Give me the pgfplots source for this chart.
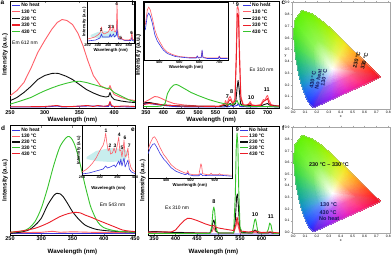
\documentclass[border=0pt]{standalone}
\usepackage{fontspec}
\setmainfont{Liberation Sans}
\usepackage{pgfplots}
\usepackage{pgfplotstable}
\pgfplotsset{compat=1.18}
\definecolor{cblue}{RGB}{55,55,225}
\definecolor{cpink}{RGB}{255,95,105}
\definecolor{cred}{RGB}{235,30,40}
\definecolor{cgreen}{RGB}{55,195,45}
\definecolor{cblack}{RGB}{15,15,15}
\definecolor{cfill}{RGB}{200,238,238}
\definecolor{cnavy}{RGB}{20,25,95}
\newcommand{\fs}[1]{\fontsize{#1}{#1}\selectfont}
\pgfplotsset{
  spec/.style={
    scale only axis, anchor=north west, clip=true,
    ytick=\empty, tick align=inside, major tick length=2bp,
    axis line style={line width=0.5bp},
    every tick/.append style={line width=0.4bp},
    tick label style={font=\fs{5.5}\bfseries, /pgf/number format/assume math mode=true},
    xticklabel style={inner sep=1.5bp},
    label style={font=\fs{6.2}\bfseries},
    xlabel={Wavelength (nm)}, ylabel={Intensity (a.u.)},
    xlabel style={at={(axis description cs:0.5,0)}, anchor=north, inner sep=0pt, yshift=-8bp},
    ylabel style={at={(axis description cs:-0.016,0.5)}, anchor=south, inner sep=0pt},
    every axis plot/.append style={line width=0.9bp, line join=round},
    legend cell align=left,
    legend image code/.code={\draw[##1, line width=1.1bp] (0bp,0bp) -- (8bp,0bp);},
    legend style={draw=none, fill=none, font=\fs{5}\bfseries, anchor=north west, row sep=1.6bp, inner sep=0pt,
      nodes={text height=3.6bp, text depth=0.4bp, inner sep=0.5bp}},
  },
  inset/.style={
    scale only axis, anchor=north west, clip=true,
    ytick=\empty, tick align=inside, major tick length=1.2bp,
    axis line style={line width=0.4bp},
    every tick/.append style={line width=0.3bp},
    axis background/.style={fill=white},
    tick label style={font=\fs{3.8}\bfseries, /pgf/number format/assume math mode=true},
    xticklabel style={inner sep=0.8bp},
    label style={font=\fs{4.3}\bfseries},
    xlabel={Wavelength (nm)},
    xlabel style={at={(axis description cs:0.5,0)}, anchor=north, inner sep=0pt, yshift=-5.2bp},
    ylabel style={at={(axis description cs:-0.02,0.5)}, anchor=south, inner sep=0pt},
    every axis plot/.append style={line width=0.6bp, line join=round},
  },
  cie/.style={
    scale only axis, anchor=north west,
    xmin=-0.013, xmax=0.814, ymin=-0.008, ymax=0.908,
    xtick={0,0.1,0.2,0.3,0.4,0.5,0.6,0.7,0.8},
    ytick={0,0.1,0.2,0.3,0.4,0.5,0.6,0.7,0.8,0.9},
    tick align=outside, major tick length=1bp,
    axis line style={draw=gray!70, line width=0.4bp},
    every tick/.append style={gray!70, line width=0.3bp},
    tick label style={font=\fs{3.4}, /pgf/number format/fixed, /pgf/number format/fixed zerofill, /pgf/number format/precision=1, /pgf/number format/assume math mode=true},
    xticklabel style={inner sep=1bp}, yticklabel style={inner sep=1bp},
    label style={font=\fs{3.6}},
    xlabel={x}, ylabel={y},
    xlabel style={at={(axis description cs:0.5,0)}, anchor=north, yshift=-6bp, inner sep=0pt},
    ylabel style={at={(axis description cs:-0.062,0.5)}, anchor=center, rotate=-90, inner sep=0pt},
  },
}
\pgfplotstableread{
x y c
0.3333 0.3333 rgb=1,1,1
0.2537 0.1692 rgb=0.51,0.37,0.93
0.2387 0.1815 rgb=0.405,0.405,1
0.2537 0.1692 rgb=0.51,0.37,0.93
0.1741 0.0050 rgb=0.3,0.1,0.9
0.1440 0.0297 rgb=0.15,0.15,1
0.2537 0.1692 rgb=0.51,0.37,0.93
0.1440 0.0297 rgb=0.15,0.15,1
0.2387 0.1815 rgb=0.405,0.405,1
0.3333 0.3333 rgb=1,1,1
0.2387 0.1815 rgb=0.405,0.405,1
0.2287 0.1956 rgb=0.37,0.475,1
0.2387 0.1815 rgb=0.405,0.405,1
0.1440 0.0297 rgb=0.15,0.15,1
0.1241 0.0578 rgb=0.1,0.25,1
0.2387 0.1815 rgb=0.405,0.405,1
0.1241 0.0578 rgb=0.1,0.25,1
0.2287 0.1956 rgb=0.37,0.475,1
0.3333 0.3333 rgb=1,1,1
0.2287 0.1956 rgb=0.37,0.475,1
0.2123 0.2330 rgb=0.37,0.58,0.965
0.2287 0.1956 rgb=0.37,0.475,1
0.1241 0.0578 rgb=0.1,0.25,1
0.0913 0.1327 rgb=0.1,0.4,0.95
0.2287 0.1956 rgb=0.37,0.475,1
0.0913 0.1327 rgb=0.1,0.4,0.95
0.2123 0.2330 rgb=0.37,0.58,0.965
0.3333 0.3333 rgb=1,1,1
0.2123 0.2330 rgb=0.37,0.58,0.965
0.2010 0.2670 rgb=0.335,0.685,0.86
0.2123 0.2330 rgb=0.37,0.58,0.965
0.0913 0.1327 rgb=0.1,0.4,0.95
0.0687 0.2007 rgb=0.05,0.55,0.8
0.2123 0.2330 rgb=0.37,0.58,0.965
0.0687 0.2007 rgb=0.05,0.55,0.8
0.2010 0.2670 rgb=0.335,0.685,0.86
0.3333 0.3333 rgb=1,1,1
0.2010 0.2670 rgb=0.335,0.685,0.86
0.1894 0.3142 rgb=0.335,0.755,0.72
0.2010 0.2670 rgb=0.335,0.685,0.86
0.0687 0.2007 rgb=0.05,0.55,0.8
0.0454 0.2950 rgb=0.05,0.65,0.6
0.2010 0.2670 rgb=0.335,0.685,0.86
0.0454 0.2950 rgb=0.05,0.65,0.6
0.1894 0.3142 rgb=0.335,0.755,0.72
0.3333 0.3333 rgb=1,1,1
0.1894 0.3142 rgb=0.335,0.755,0.72
0.1784 0.3730 rgb=0.37,0.825,0.58
0.1894 0.3142 rgb=0.335,0.755,0.72
0.0454 0.2950 rgb=0.05,0.65,0.6
0.0235 0.4127 rgb=0.1,0.75,0.4
0.1894 0.3142 rgb=0.335,0.755,0.72
0.0235 0.4127 rgb=0.1,0.75,0.4
0.1784 0.3730 rgb=0.37,0.825,0.58
0.3333 0.3333 rgb=1,1,1
0.1784 0.3730 rgb=0.37,0.825,0.58
0.1708 0.4359 rgb=0.44,0.895,0.44
0.1784 0.3730 rgb=0.37,0.825,0.58
0.0235 0.4127 rgb=0.1,0.75,0.4
0.0082 0.5384 rgb=0.2,0.85,0.2
0.1784 0.3730 rgb=0.37,0.825,0.58
0.0082 0.5384 rgb=0.2,0.85,0.2
0.1708 0.4359 rgb=0.44,0.895,0.44
0.3333 0.3333 rgb=1,1,1
0.1708 0.4359 rgb=0.44,0.895,0.44
0.1686 0.4941 rgb=0.51,0.93,0.37
0.1708 0.4359 rgb=0.44,0.895,0.44
0.0082 0.5384 rgb=0.2,0.85,0.2
0.0039 0.6548 rgb=0.3,0.9,0.1
0.1708 0.4359 rgb=0.44,0.895,0.44
0.0039 0.6548 rgb=0.3,0.9,0.1
0.1686 0.4941 rgb=0.51,0.93,0.37
0.3333 0.3333 rgb=1,1,1
0.1686 0.4941 rgb=0.51,0.93,0.37
0.1736 0.5418 rgb=0.545,0.965,0.335
0.1686 0.4941 rgb=0.51,0.93,0.37
0.0039 0.6548 rgb=0.3,0.9,0.1
0.0139 0.7502 rgb=0.35,0.95,0.05
0.1686 0.4941 rgb=0.51,0.93,0.37
0.0139 0.7502 rgb=0.35,0.95,0.05
0.1736 0.5418 rgb=0.545,0.965,0.335
0.3333 0.3333 rgb=1,1,1
0.1736 0.5418 rgb=0.545,0.965,0.335
0.2038 0.5836 rgb=0.58,0.965,0.3
0.1736 0.5418 rgb=0.545,0.965,0.335
0.0139 0.7502 rgb=0.35,0.95,0.05
0.0743 0.8338 rgb=0.4,0.95,0
0.1736 0.5418 rgb=0.545,0.965,0.335
0.0743 0.8338 rgb=0.4,0.95,0
0.2038 0.5836 rgb=0.58,0.965,0.3
0.3333 0.3333 rgb=1,1,1
0.2038 0.5836 rgb=0.58,0.965,0.3
0.2440 0.5696 rgb=0.615,0.965,0.3
0.2038 0.5836 rgb=0.58,0.965,0.3
0.0743 0.8338 rgb=0.4,0.95,0
0.1547 0.8059 rgb=0.45,0.95,0
0.2038 0.5836 rgb=0.58,0.965,0.3
0.1547 0.8059 rgb=0.45,0.95,0
0.2440 0.5696 rgb=0.615,0.965,0.3
0.3333 0.3333 rgb=1,1,1
0.2440 0.5696 rgb=0.615,0.965,0.3
0.2815 0.5438 rgb=0.685,0.965,0.3
0.2440 0.5696 rgb=0.615,0.965,0.3
0.1547 0.8059 rgb=0.45,0.95,0
0.2296 0.7543 rgb=0.55,0.95,0
0.2440 0.5696 rgb=0.615,0.965,0.3
0.2296 0.7543 rgb=0.55,0.95,0
0.2815 0.5438 rgb=0.685,0.965,0.3
0.3333 0.3333 rgb=1,1,1
0.2815 0.5438 rgb=0.685,0.965,0.3
0.3175 0.5128 rgb=0.755,0.965,0.3
0.2815 0.5438 rgb=0.685,0.965,0.3
0.2296 0.7543 rgb=0.55,0.95,0
0.3016 0.6923 rgb=0.65,0.95,0
0.2815 0.5438 rgb=0.685,0.965,0.3
0.3016 0.6923 rgb=0.65,0.95,0
0.3175 0.5128 rgb=0.755,0.965,0.3
0.3333 0.3333 rgb=1,1,1
0.3175 0.5128 rgb=0.755,0.965,0.3
0.3532 0.4789 rgb=0.86,0.965,0.335
0.3175 0.5128 rgb=0.755,0.965,0.3
0.3016 0.6923 rgb=0.65,0.95,0
0.3731 0.6245 rgb=0.8,0.95,0.05
0.3175 0.5128 rgb=0.755,0.965,0.3
0.3731 0.6245 rgb=0.8,0.95,0.05
0.3532 0.4789 rgb=0.86,0.965,0.335
0.3333 0.3333 rgb=1,1,1
0.3532 0.4789 rgb=0.86,0.965,0.335
0.3887 0.4440 rgb=0.965,0.93,0.37
0.3532 0.4789 rgb=0.86,0.965,0.335
0.3731 0.6245 rgb=0.8,0.95,0.05
0.4441 0.5547 rgb=0.95,0.9,0.1
0.3532 0.4789 rgb=0.86,0.965,0.335
0.4441 0.5547 rgb=0.95,0.9,0.1
0.3887 0.4440 rgb=0.965,0.93,0.37
0.3333 0.3333 rgb=1,1,1
0.3887 0.4440 rgb=0.965,0.93,0.37
0.4229 0.4100 rgb=1,0.79,0.37
0.3887 0.4440 rgb=0.965,0.93,0.37
0.4441 0.5547 rgb=0.95,0.9,0.1
0.5125 0.4866 rgb=1,0.7,0.1
0.3887 0.4440 rgb=0.965,0.93,0.37
0.5125 0.4866 rgb=1,0.7,0.1
0.4229 0.4100 rgb=1,0.79,0.37
0.3333 0.3333 rgb=1,1,1
0.4229 0.4100 rgb=1,0.79,0.37
0.4543 0.3788 rgb=1,0.65,0.37
0.4229 0.4100 rgb=1,0.79,0.37
0.5125 0.4866 rgb=1,0.7,0.1
0.5752 0.4242 rgb=1,0.5,0.1
0.4229 0.4100 rgb=1,0.79,0.37
0.5752 0.4242 rgb=1,0.5,0.1
0.4543 0.3788 rgb=1,0.65,0.37
0.3333 0.3333 rgb=1,1,1
0.4543 0.3788 rgb=1,0.65,0.37
0.4802 0.3529 rgb=1,0.51,0.37
0.4543 0.3788 rgb=1,0.65,0.37
0.5752 0.4242 rgb=1,0.5,0.1
0.6270 0.3725 rgb=1,0.3,0.1
0.4543 0.3788 rgb=1,0.65,0.37
0.6270 0.3725 rgb=1,0.3,0.1
0.4802 0.3529 rgb=1,0.51,0.37
0.3333 0.3333 rgb=1,1,1
0.4802 0.3529 rgb=1,0.51,0.37
0.5124 0.3208 rgb=1,0.37,0.37
0.4802 0.3529 rgb=1,0.51,0.37
0.6270 0.3725 rgb=1,0.3,0.1
0.6915 0.3083 rgb=1,0.1,0.1
0.4802 0.3529 rgb=1,0.51,0.37
0.6915 0.3083 rgb=1,0.1,0.1
0.5124 0.3208 rgb=1,0.37,0.37
0.3333 0.3333 rgb=1,1,1
0.5124 0.3208 rgb=1,0.37,0.37
0.5340 0.2993 rgb=0.965,0.335,0.405
0.5124 0.3208 rgb=1,0.37,0.37
0.6915 0.3083 rgb=1,0.1,0.1
0.7347 0.2653 rgb=0.95,0.05,0.15
0.5124 0.3208 rgb=1,0.37,0.37
0.7347 0.2653 rgb=0.95,0.05,0.15
0.5340 0.2993 rgb=0.965,0.335,0.405
0.3333 0.3333 rgb=1,1,1
0.5340 0.2993 rgb=0.965,0.335,0.405
0.4639 0.2655 rgb=1,0.37,0.615
0.5340 0.2993 rgb=0.965,0.335,0.405
0.7347 0.2653 rgb=0.95,0.05,0.15
0.5945 0.1977 rgb=1,0.1,0.45
0.5340 0.2993 rgb=0.965,0.335,0.405
0.5945 0.1977 rgb=1,0.1,0.45
0.4639 0.2655 rgb=1,0.37,0.615
0.3333 0.3333 rgb=1,1,1
0.4639 0.2655 rgb=1,0.37,0.615
0.3939 0.2343 rgb=0.93,0.37,0.825
0.4639 0.2655 rgb=1,0.37,0.615
0.5945 0.1977 rgb=1,0.1,0.45
0.4544 0.1352 rgb=0.9,0.1,0.75
0.4639 0.2655 rgb=1,0.37,0.615
0.4544 0.1352 rgb=0.9,0.1,0.75
0.3939 0.2343 rgb=0.93,0.37,0.825
0.3333 0.3333 rgb=1,1,1
0.3939 0.2343 rgb=0.93,0.37,0.825
0.3238 0.2017 rgb=0.72,0.37,0.965
0.3939 0.2343 rgb=0.93,0.37,0.825
0.4544 0.1352 rgb=0.9,0.1,0.75
0.3143 0.0701 rgb=0.6,0.1,0.95
0.3939 0.2343 rgb=0.93,0.37,0.825
0.3143 0.0701 rgb=0.6,0.1,0.95
0.3238 0.2017 rgb=0.72,0.37,0.965
0.3333 0.3333 rgb=1,1,1
0.3238 0.2017 rgb=0.72,0.37,0.965
0.2537 0.1692 rgb=0.51,0.37,0.93
0.3238 0.2017 rgb=0.72,0.37,0.965
0.3143 0.0701 rgb=0.6,0.1,0.95
0.1741 0.0050 rgb=0.3,0.1,0.9
0.3238 0.2017 rgb=0.72,0.37,0.965
0.1741 0.0050 rgb=0.3,0.1,0.9
0.2537 0.1692 rgb=0.51,0.37,0.93
}\ciedata
\pgfplotstableread{
x y
0.1741 0.0050
0.1440 0.0297
0.1241 0.0578
0.0913 0.1327
0.0687 0.2007
0.0454 0.2950
0.0235 0.4127
0.0082 0.5384
0.0039 0.6548
0.0139 0.7502
0.0743 0.8338
0.1547 0.8059
0.2296 0.7543
0.3016 0.6923
0.3731 0.6245
0.4441 0.5547
0.5125 0.4866
0.5752 0.4242
0.6270 0.3725
0.6915 0.3083
0.7347 0.2653
0.1741 0.0050
}\cieline
\begin{document}
\begin{tikzpicture}
\useasboundingbox (0,0) rectangle (392bp,-255bp);
% ---------------- a ----------------
\begin{axis}[spec, at={(10bp,-1bp)}, width=125bp, height=107.5bp, xmin=250, xmax=430, ymin=0, ymax=107.5,
  xtick={250,300,350,400}, legend style={at={(axis description cs:0.012,0.986)}}]
\addplot[cblue] coordinates {(250,1.5)(300,1.5)(318,2.5)(325,1.5)(362,2.5)(376,2.5)(392,2)(394,6)(396,2)(430,1.5)};
\addlegendentry{No heat}
\addplot[cpink] coordinates {(250,12.7)(260,18)(270,26)(280,40)(290,56)(300,68)(310,79)(318,86)(325,89)(332,88)(340,84)(348,75)(355,63)(362,48)(370,33)(380,23)(388,20)(392,19)(394,23)(396,19)(400,14)(410,11)(420,9)(430,8)};
\addlegendentry{130 °C}
\addplot[cblack] coordinates {(250,7.7)(260,11)(270,16)(280,22)(290,29)(300,33)(310,35)(315,35.3)(320,35)(330,32.5)(340,29)(350,24)(360,19)(370,15.5)(380,12.7)(388,11.5)(392,12)(394,16)(396,12)(400,9)(410,7.5)(420,6.5)(430,6)};
\addlegendentry{230 °C}
\addplot[cred] coordinates {(250,1.8)(280,1.8)(300,2)(318,3)(325,2)(340,2)(362,3)(370,2)(376,3)(385,2.2)(392,3)(394,7)(396,3)(400,2)(415,2.5)(430,2)};
\addlegendentry{330 °C}
\addplot[cgreen] coordinates {(250,4.3)(265,7.5)(280,11)(290,14.5)(300,17.7)(310,20.5)(320,23)(330,25)(340,26.7)(350,27.3)(360,26)(370,24)(380,22)(390,20)(393,20.5)(395,19)(400,16)(410,12.5)(420,9)(430,6.7)};
\addlegendentry{430 °C}
\end{axis}
% inset a
\begin{axis}[inset, at={(87.5bp,-1bp)}, width=46.5bp, height=42bp, xmin=250, xmax=475, ymin=0, ymax=42,
  xtick={250,300,350,400,450}, ylabel={Intensity (a.u.)}]
\addplot[fill=cfill, draw=none] coordinates {(265,8)(300,11)(340,12)(380,12)(405,9)(380,6)(340,5)(300,5)(265,6)} -- cycle;
\addplot[cblue] coordinates {(250,2)(270,2.5)(290,3)(310,5)(318,9)(322,6)(340,6)(355,6)(360,9)(364,6)(372,8)(376,9)(380,6)(390,8)(393,22)(396,7)(400,4)(414,4)(430,2.5)(460,2.5)(465,6)(468,2.5)(475,2)};
\addplot[cpink] coordinates {(250,4)(270,5)(285,6)(300,8)(310,10)(315,13)(318,16)(321,11)(330,9)(340,10)(350,11)(356,13)(360,18)(363,13)(368,12)(372,14)(376,17)(379,12)(385,11)(390,14)(393,40)(396,14)(400,6)(410,4)(414,6)(417,4)(430,3)(450,3)(460,4)(465,11)(468,4)(475,3)};
\end{axis}
% ---------------- b ----------------
\begin{axis}[spec, at={(143.5bp,-1.5bp)}, width=135.5bp, height=107bp, xmin=343, xmax=732.7, ymin=0, ymax=107,
  xtick={350,400,450,500,550,600,650,700}, legend style={at={(axis description cs:0.73,0.99)}}]
\addplot[cblue] coordinates {(343,4)(350,5)(360,5)(370,4.5)(380,4)(400,3)(430,2)(480,1.5)(575,1.5)(579,2)(583,1.5)(590,2)(595,3)(600,2)(612,3)(615,5)(620,2)(650,1.5)(700,2)(733,1.5)};
\addlegendentry{No heat}
\addplot[cpink] coordinates {(343,6)(355,8)(365,10)(375,12)(385,11.5)(395,10)(410,7.5)(430,5)(460,3.5)(500,2.5)(560,2.5)(575,3)(579,8)(583,4)(588,10)(592,12)(596,9)(600,5)(606,10)(610,60)(612,100)(614,102)(617,98)(619,60)(623,12)(630,4)(640,3)(646,5)(650,7)(654,4)(665,3)(680,4)(688,9)(692,8)(697,12)(700,13)(703,9)(710,4)(720,3)(733,3)};
\addlegendentry{130 °C}
\addplot[cblack] coordinates {(343,5)(350,6)(360,6)(375,5)(400,3.5)(450,2.5)(560,2)(579,3)(583,2)(588,4)(592,5)(596,4)(600,3)(608,5)(612,20)(615,28)(618,20)(622,5)(630,2.5)(650,3)(680,2.5)(690,4)(700,5)(705,3.5)(733,2)};
\addlegendentry{230 °C}
\addplot[cred] coordinates {(343,4)(360,5)(380,4.5)(400,3.5)(450,2.5)(560,2)(579,5)(583,3)(588,7)(592,9)(596,7)(600,4)(606,8)(610,50)(613,95)(616,93)(619,50)(623,10)(630,3)(646,4)(650,5)(654,3)(680,3)(688,7)(697,9)(700,10)(703,6)(710,3)(733,2)};
\addlegendentry{330 °C}
\addplot[cgreen] coordinates {(343,2)(360,2)(380,2)(395,2.5)(405,5)(412,15)(420,20)(430,23.5)(438,24)(445,23)(460,20)(480,16)(500,13)(530,9)(560,6)(580,4.5)(595,4)(605,5)(612,8)(616,5)(625,3)(650,2)(700,2)(733,1.5)};
\addlegendentry{430 °C}
\end{axis}
% inset b
\begin{axis}[inset, at={(144.3bp,-1.7bp)}, width=83.4bp, height=58.3bp, xmin=325, xmax=742, ymin=0, ymax=58.3,
  xtick={400,500,600,700}]
\addplot[cpink] coordinates {(330,35)(340,50)(347,53)(355,50)(365,42)(378,30)(390,23)(403,18)(420,12)(440,8)(460,6)(480,4.5)(500,3.5)(550,2.5)(585,2.5)(590,4)(595,2.5)(610,3)(614,9)(618,3)(640,2)(695,2)(700,4)(705,2)(742,2)};
\addplot[cblue] coordinates {(330,30)(340,44)(347,47)(355,44)(365,37)(378,25)(390,19)(403,15)(420,10)(440,6.5)(460,5)(480,3.5)(500,3)(550,2)(585,2)(590,4)(595,2)(610,2.5)(614,10)(618,2.5)(640,1.5)(695,1.5)(700,3.5)(705,1.5)(742,1.5)};
\end{axis}
% ---------------- c ----------------
\begin{axis}[cie, at={(291.7bp,-1.7bp)}, width=98.3bp, height=107.6bp]
\addplot[patch, shader=interp, mesh/color input=explicit, point meta=explicit symbolic] table[x=x, y=y, meta=c] {\ciedata};
\addplot[gray!60, line width=0.3bp] table[x=x, y=y] {\cieline};
\end{axis}
% ---------------- d ----------------
\begin{axis}[spec, at={(10bp,-125.5bp)}, width=125bp, height=109.5bp, xmin=250, xmax=450, ymin=-0.7, ymax=108.8,
  xtick={250,300,350,400,450}, xlabel style={yshift=-6bp}, legend style={at={(axis description cs:0.012,0.982)}, row sep=0.9bp}]
\addplot[cblue] coordinates {(250,1)(450,1)};
\addlegendentry{No heat}
\addplot[cpink] coordinates {(250,1.5)(300,2)(318,3)(330,2)(350,2.5)(380,2)(450,1.5)};
\addlegendentry{130 °C}
\addplot[cblack, smooth] coordinates {(250,1)(265,2)(280,4.3)(290,9)(300,16)(310,29)(320,38.7)(325,41)(330,40.5)(335,37.7)(342,31)(350,22.7)(360,15)(370,9.3)(380,6.5)(390,4.7)(410,3.3)(450,2)};
\addlegendentry{230 °C}
\addplot[cgreen, smooth] coordinates {(250,2)(270,3.3)(280,6)(290,12.7)(300,26)(310,46)(320,69)(330,87.7)(340,96.7)(345,97.7)(350,94.3)(355,87)(360,76)(365,63)(370,49.3)(375,37)(380,26)(390,12.7)(400,6.7)(420,3.3)(450,2)};
\addlegendentry{330 °C}
\addplot[cred, smooth] coordinates {(250,2)(270,3.5)(290,6)(310,11)(330,17.7)(345,21)(355,22)(362,21.5)(370,19.3)(380,17)(390,14.3)(400,11.8)(410,9.3)(420,6.8)(430,4.3)(440,3.3)(450,2.7)};
\addlegendentry{430 °C}
\end{axis}
% inset d
\begin{axis}[inset, at={(82bp,-125.5bp)}, width=53bp, height=49.5bp, xmin=250, xmax=400, ymin=0, ymax=49.5,
  xtick={250,300,350,400}, ylabel={Intensity (a.u.)}, xlabel style={yshift=-6bp}]
\addplot[fill=cfill, draw=none] coordinates {(263,18)(290,24)(330,27)(370,26)(383,22)(370,14)(330,13)(290,14)(263,16)} -- cycle;
\addplot[cblue] coordinates {(250,1)(270,2)(290,4)(310,6)(317,9)(322,7)(330,8)(341,10)(345,8)(354,14)(357,10)(360,16)(363,9)(369,17)(372,8)(380,15)(384,6)(390,3)(400,1.5)};
\addplot[cpink] coordinates {(250,3)(260,5)(270,8)(280,12)(290,17)(300,24)(310,30)(314,35)(317,42)(320,33)(324,24)(328,27)(331,21)(336,22)(341,27)(345,22)(350,30)(354,38)(357,24)(360,25)(363,18)(366,25)(369,35)(372,18)(376,20)(380,27)(383,15)(388,8)(393,5)(400,3)};
\end{axis}
% ---------------- e ----------------
\begin{axis}[spec, at={(148bp,-126bp)}, width=131bp, height=109bp, xmin=336, xmax=640.6, ymin=0, ymax=109,
  xtick={350,400,450,500,550,600}, xlabel style={yshift=-6bp}, legend style={at={(axis description cs:0.698,0.986)}, row sep=0.9bp}]
\addplot[cblue] coordinates {(336,2)(400,1.5)(480,1)(641,1)};
\addlegendentry{No heat}
\addplot[cpink] coordinates {(336,3)(350,3.5)(380,3)(420,2.5)(480,2)(486,4)(489,8)(492,4)(500,2)(535,2)(540,8)(543,14)(546,8)(550,2)(580,2)(585,3)(590,2)(615,2)(620,3)(625,2)(641,2)};
\addlegendentry{130 °C}
\addplot[cblack] coordinates {(336,3)(350,3.5)(370,3)(400,2.5)(450,2)(480,2)(484,5)(487,13)(489,15)(491,12)(494,4)(500,2)(535,2)(539,15)(542,38)(544,41)(546,30)(549,8)(553,2.5)(578,2)(582,4)(585,5)(588,4)(592,2)(615,2)(620,3)(624,2)(641,1.5)};
\addlegendentry{230 °C}
\addplot[cgreen] coordinates {(336,1.5)(450,1.5)(480,1.5)(484,8)(487,24)(489,28)(491,24)(494,8)(498,2)(535,2)(539,40)(541,85)(543,102)(545,90)(547,45)(550,8)(555,2)(578,2)(581,8)(584,15)(586,16)(588,12)(591,4)(596,2)(612,2)(616,6)(619,12)(622,10)(625,3)(630,1.5)(641,1.5)};
\addlegendentry{330 °C}
\addplot[cred] coordinates {(336,2.7)(360,3)(390,3)(400,5)(410,10)(420,14.5)(428,16.7)(436,16.5)(450,14.5)(470,11)(485,9)(489,9.5)(493,8)(500,7)(520,5.5)(535,4.5)(540,10)(543,18)(546,12)(550,4)(570,3)(585,4)(600,2.5)(620,3)(641,2)};
\addlegendentry{430 °C}
\end{axis}
% inset e
\begin{axis}[inset, at={(148bp,-126bp)}, width=83.7bp, height=51.7bp, xmin=325, xmax=670, ymin=0, ymax=51.7,
  xtick={400,500,600}]
\addplot[cpink] coordinates {(325,28)(335,35)(345,40)(352,41)(360,38)(375,30)(390,23)(400,20)(420,13)(440,9)(460,6.5)(480,4.5)(485,4.5)(489,7)(493,4)(510,3)(535,3)(540,10)(543,14)(546,12)(550,4)(570,3)(580,3)(585,4.5)(590,3)(615,3)(620,4)(625,3)(670,2.5)};
\addplot[cblue] coordinates {(325,24)(335,30)(345,33.5)(352,34)(360,31)(375,24)(390,18.5)(400,16)(420,10)(440,6.5)(460,4.5)(480,3)(489,4.5)(493,3)(510,2)(535,2)(543,4)(550,2)(585,2.5)(620,2.5)(670,1.5)};
\end{axis}
% ---------------- f ----------------
\begin{axis}[cie, at={(291.7bp,-126.7bp)}, width=98.3bp, height=106.6bp]
\addplot[patch, shader=interp, mesh/color input=explicit, point meta=explicit symbolic] table[x=x, y=y, meta=c] {\ciedata};
\addplot[gray!60, line width=0.3bp] table[x=x, y=y] {\cieline};
\end{axis}
% ---------------- annotations ----------------
\begin{scope}[every node/.style={inner sep=0pt}]
\node[font=\fs{6.5}\bfseries] at (2.5bp,-3bp) {a};
\node[font=\fs{6.5}\bfseries] at (133.5bp,-3.5bp) {b};
\node[font=\fs{6.5}\bfseries] at (283.3bp,-3bp) {c};
\node[font=\fs{6.5}\bfseries] at (3bp,-128bp) {d};
\node[font=\fs{6.5}\bfseries] at (133bp,-129.5bp) {e};
\node[font=\fs{6.5}\bfseries] at (283.3bp,-128.5bp) {f};
\node[font=\fs{5}, anchor=west] at (12bp,-43bp) {Em 612 nm};
\node[font=\fs{5}] at (112.5bp,-205bp) {Em 543 nm};
\node[font=\fs{5}] at (261.5bp,-70bp) {Ex 310 nm};
\node[font=\fs{5}, anchor=west] at (165bp,-208bp) {Ex 310 nm};
\begin{scope}[every node/.append style={font=\fs{4.5}\bfseries}]
\node at (101bp,-30bp) {1};
\node at (109.3bp,-26.7bp) {2};
\node at (112.5bp,-27.3bp) {3};
\node at (116.7bp,-4bp) {4};
\node at (120.7bp,-38.3bp) {5};
\node at (131.7bp,-33.3bp) {6};
\end{scope}
\begin{scope}[every node/.append style={font=\fs{5}\bfseries}]
\node at (106bp,-131bp) {1};
\node at (110bp,-145.7bp) {2};
\node at (115bp,-145.7bp) {3};
\node at (119.3bp,-135bp) {4};
\node at (121.9bp,-148bp) {5};
\node at (125bp,-138bp) {6};
\node at (129.3bp,-145.7bp) {7};
\end{scope}
\begin{scope}[every node/.append style={font=\fs{5.5}\bfseries}]
\node at (227.3bp,-96.7bp) {7};
\node at (231.7bp,-91.7bp) {8};
\node at (237.3bp,-5bp) {9};
\node at (251bp,-97.7bp) {10};
\node at (266.7bp,-90bp) {11};
\node at (214bp,-201.7bp) {8};
\node at (237.3bp,-130bp) {9};
\node at (255bp,-215bp) {10};
\node at (270.7bp,-216.7bp) {11};
\end{scope}
\begin{scope}[every node/.append style={font=\fs{5.5}\bfseries}]
\node[rotate=75, cblack] at (356.7bp,-60.2bp) {230 °C};
\node[rotate=75, cblack] at (364.5bp,-61.3bp) {330 °C};
\node[rotate=80, cnavy] at (312.7bp,-80bp) {430 °C};
\node[rotate=80, cnavy] at (318.3bp,-79bp) {No heat};
\node[rotate=80, cnavy] at (324bp,-78bp) {130 °C};
\node[cblack] at (329bp,-164.3bp) {230 °C -- 330 °C};
\node[cnavy, anchor=west] at (320bp,-205bp) {130 °C};
\node[cnavy, anchor=west] at (319.5bp,-212.3bp) {430 °C};
\node[cnavy, anchor=west] at (319bp,-219bp) {No heat};
\end{scope}
\end{scope}
\end{tikzpicture}
\end{document}
